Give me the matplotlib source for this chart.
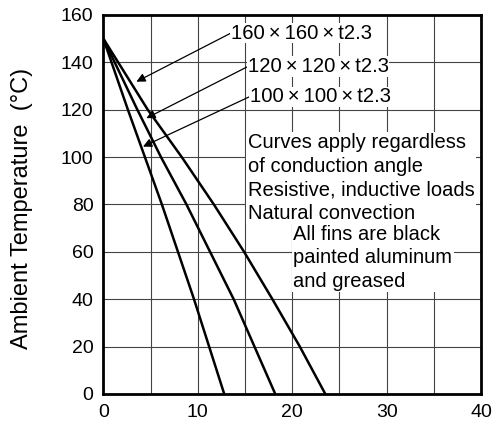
import matplotlib.pyplot as plt

plt.rcParams['font.family'] = ['Liberation Sans', 'DejaVu Sans']

# curves: temperature points and matching x values
temps = [150, 120, 100, 80, 60, 40, 20, 0]
x_100 = [0, 2.6, 4.4, 6.2, 7.9, 9.6, 11.2, 12.8]
x_120 = [0, 3.6, 6.1, 8.8, 11.3, 13.8, 16.0, 18.2]
x_160 = [0, 4.7, 8.3, 11.7, 14.9, 17.9, 20.8, 23.5]

labels = ["160\u2009\u00d7\u2009160\u2009\u00d7\u2009t2.3",
          "120\u2009\u00d7\u2009120\u2009\u00d7\u2009t2.3",
          "100\u2009\u00d7\u2009100\u2009\u00d7\u2009t2.3"]
arrow_tips = [(3.5, 131.8), (4.56, 116.4), (4.2, 104.4)]
label_pos = [(13.5, 152.3), (15.3, 138.2), (15.5, 125.5)]

note1 = "Curves apply regardless\nof conduction angle\nResistive, inductive loads\nNatural convection"
note2 = "All fins are black\npainted aluminum\nand greased"

fig = plt.figure(figsize=(4.92, 4.25), dpi=100)
ax = fig.add_axes([0.21, 0.073, 0.768, 0.892])

for xs in (x_100, x_120, x_160):
    ax.plot(xs, temps, color='black', lw=1.8, solid_capstyle='butt', zorder=3)

ax.set_xlim(0, 40)
ax.set_ylim(0, 160)
ax.set_xticks(range(0, 41, 10))
ax.set_yticks(range(0, 161, 20))
ax.set_xticks(range(0, 41, 5), minor=True)
ax.grid(True, which='both', color='#444444', lw=0.8)
ax.tick_params(which='both', length=0, labelsize=14, pad=7)
for s in ax.spines.values():
    s.set_linewidth(2)
    s.set_zorder(5)

ax.set_ylabel("Ambient Temperature  (\u00b0C)", fontsize=17)
ax.yaxis.set_label_coords(-0.185, 0.49)

for lab, tip, pos in zip(labels, arrow_tips, label_pos):
    ax.annotate(lab, xy=tip, xytext=pos, textcoords='data', ha='left', va='center',
                fontsize=14.6, zorder=4,
                bbox=dict(fc='white', ec='none', pad=0.5),
                arrowprops=dict(arrowstyle='-|>', color='black', lw=0.9,
                                relpos=(0, 0.5), shrinkA=0, shrinkB=0,
                                mutation_scale=13))

ax.text(15.3, 110, note1, ha='left', va='top', fontsize=14.5, linespacing=1.3,
        zorder=4, bbox=dict(fc='white', ec='none', pad=1))
ax.text(20.1, 71.5, note2, ha='left', va='top', fontsize=14.5, linespacing=1.3,
        zorder=4, bbox=dict(fc='white', ec='none', pad=1))

fig.savefig('out.png', dpi=100)
